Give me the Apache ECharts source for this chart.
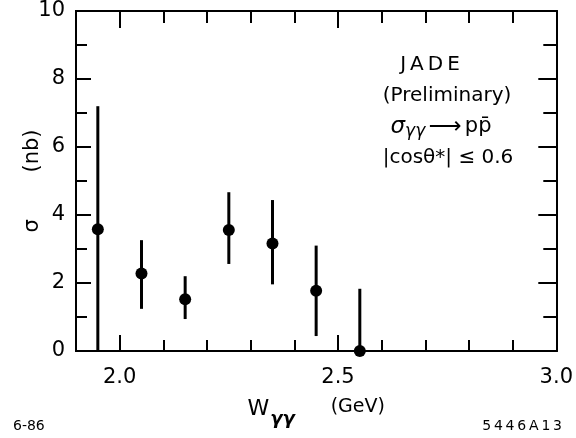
<!DOCTYPE html>
<html lang="en">
<head>
    <meta charset="UTF-8">
    <title>JADE gamma gamma -> p pbar</title>
    <style>
        html, body { margin: 0; padding: 0; background: #fff; }
    </style>
</head>
<body>
<div id="main" style="width: 576px;height:438px;"></div>
<script src="https://cdn.jsdelivr.net/npm/echarts@6/dist/echarts.min.js"></script>
<script>
    // W_gamma_gamma bin centres (GeV) and measured cross section (nb)
    var wgg = [1.95, 2.05, 2.15, 2.25, 2.35, 2.45, 2.55];
    var sigma = [3.58, 2.28, 1.52, 3.56, 3.16, 1.77, 0.0];
    var errLow = [0.0, 1.24, 0.94, 2.56, 1.96, 0.44, 0.0];
    var errHigh = [7.2, 3.26, 2.2, 4.67, 4.44, 3.1, 1.83];

    // axis ticks
    var xLabels = [2.0, 2.5, 3.0];
    var xMajor = [2.0, 2.5];
    var xMinor = [2.1, 2.2, 2.3, 2.4, 2.6, 2.7, 2.8, 2.9];
    var yLabels = [0, 2, 4, 6, 8, 10];
    var yMajor = [2, 4, 6, 8];
    var yMinor = [1, 3, 5, 7, 9];

    var font = 'DejaVu Sans';
    var myChart = echarts.init(document.getElementById('main'));

    function xAx(pos, ticks, len, withLabel) {
        return {
            type: 'value', position: pos, min: 1.9, max: 3.0,
            axisLine: { show: true, onZero: false, lineStyle: { color: '#000', width: 2 } },
            axisTick: { show: true, inside: true, length: len, customValues: ticks,
                lineStyle: { color: '#000', width: 2 } },
            axisLabel: withLabel ? {
                show: true, customValues: xLabels, margin: 16,
                color: '#000', fontFamily: font, fontSize: 21,
                formatter: function (v) { return (+v).toFixed(1); }
            } : { show: false },
            splitLine: { show: false }
        };
    }

    function yAx(pos, ticks, len, withLabel) {
        return {
            type: 'value', position: pos, min: 0, max: 10,
            axisLine: { show: true, onZero: false, lineStyle: { color: '#000', width: 2 } },
            axisTick: { show: true, inside: true, length: len, customValues: ticks,
                lineStyle: { color: '#000', width: 2 } },
            axisLabel: withLabel ? {
                show: true, customValues: yLabels, margin: 11,
                color: '#000', fontFamily: font, fontSize: 21
            } : { show: false },
            splitLine: { show: false }
        };
    }

    var xAxes = [
        xAx('bottom', xMajor, 16, true),
        xAx('bottom', xMinor, 11, false),
        xAx('top', xMajor, 17, false),
        xAx('top', xMinor, 12, false)
    ];
    xAxes[0].name = '{w|W}{sub|γγ}{u|(GeV)}';
    xAxes[0].nameLocation = 'middle';
    xAxes[0].nameGap = 47;
    xAxes[0].nameMoveOverlap = false;
    xAxes[0].nameTextStyle = {
        color: '#000', fontFamily: font,
        rich: {
            w: { fontSize: 22, fontFamily: font, color: '#000', verticalAlign: 'top', lineHeight: 24 },
            sub: { fontSize: 18, fontFamily: font, color: '#000', fontWeight: 'bold', fontStyle: 'italic',
                verticalAlign: 'bottom', lineHeight: 30, padding: [0, 36, 0, 1] },
            u: { fontSize: 19, fontFamily: font, color: '#000', verticalAlign: 'top', lineHeight: 24 }
        }
    };

    var yAxes = [
        yAx('left', yMajor, 15, true),
        yAx('left', yMinor, 11, false),
        yAx('right', yMajor, 18, false),
        yAx('right', yMinor, 13, false)
    ];
    yAxes[0].name = 'σ       (nb)';
    yAxes[0].nameLocation = 'middle';
    yAxes[0].nameGap = 33;
    yAxes[0].nameMoveOverlap = false;
    yAxes[0].nameTextStyle = { color: '#000', fontFamily: font, fontSize: 21 };

    var option = {
        animation: false,
        backgroundColor: '#fff',
        grid: { left: 76, top: 11, right: 17, bottom: 87, containLabel: false },
        xAxis: xAxes,
        yAxis: yAxes,
        graphic: [
            { type: 'text', x: 430, y: 65, style: { text: 'J\u2009A\u2009D\u2009E', fill: '#000', font: '20px "DejaVu Sans"', align: 'center', verticalAlign: 'middle' } },
            { type: 'text', x: 447, y: 96, style: { text: '(Preliminary)', fill: '#000', font: '20px "DejaVu Sans"', align: 'center', verticalAlign: 'middle' } },
            { type: 'text', x: 441, y: 127, style: {
                text: '{s|σ}{g|γγ} {a|⟶} {p|pp̄}', align: 'center', verticalAlign: 'middle',
                rich: {
                    s: { fontSize: 23, fontFamily: font, fill: '#000', fontStyle: 'italic' },
                    g: { fontSize: 17, fontFamily: font, fill: '#000', fontStyle: 'italic', padding: [10, 0, 0, 0] },
                    a: { fontSize: 23, fontFamily: font, fill: '#000' },
                    p: { fontSize: 21, fontFamily: font, fill: '#000' }
                }
            } },
            { type: 'text', x: 448, y: 158, style: { text: '|cosθ*| ≤ 0.6', fill: '#000', font: '20px "DejaVu Sans"', align: 'center', verticalAlign: 'middle' } },
            { type: 'text', x: 13, y: 426, style: { text: '6-86', fill: '#000', font: '14px "DejaVu Sans"', verticalAlign: 'middle' } },
            { type: 'text', x: 562, y: 426, style: { text: '5\u20094\u20094\u20096\u2009A\u20091\u20093', fill: '#000', font: '14px "DejaVu Sans"', align: 'right', verticalAlign: 'middle' } }
        ],
        series: [
            {
                name: 'error',
                type: 'custom',
                xAxisIndex: 0, yAxisIndex: 0,
                clip: false,
                data: wgg.map(function (x, i) { return [x, errLow[i], errHigh[i]]; }),
                renderItem: function (params, api) {
                    var lo = api.coord([api.value(0), api.value(1)]);
                    var hi = api.coord([api.value(0), api.value(2)]);
                    return {
                        type: 'line',
                        shape: { x1: lo[0], y1: lo[1], x2: hi[0], y2: hi[1] },
                        style: { stroke: '#000', lineWidth: 3 }
                    };
                }
            },
            {
                name: 'sigma',
                type: 'scatter',
                xAxisIndex: 0, yAxisIndex: 0,
                clip: false,
                symbol: 'circle',
                symbolSize: 12,
                itemStyle: { color: '#000', opacity: 1 },
                data: wgg.map(function (x, i) { return [x, sigma[i]]; })
            }
        ]
    };

    myChart.setOption(option);
</script>
</body>
</html>
